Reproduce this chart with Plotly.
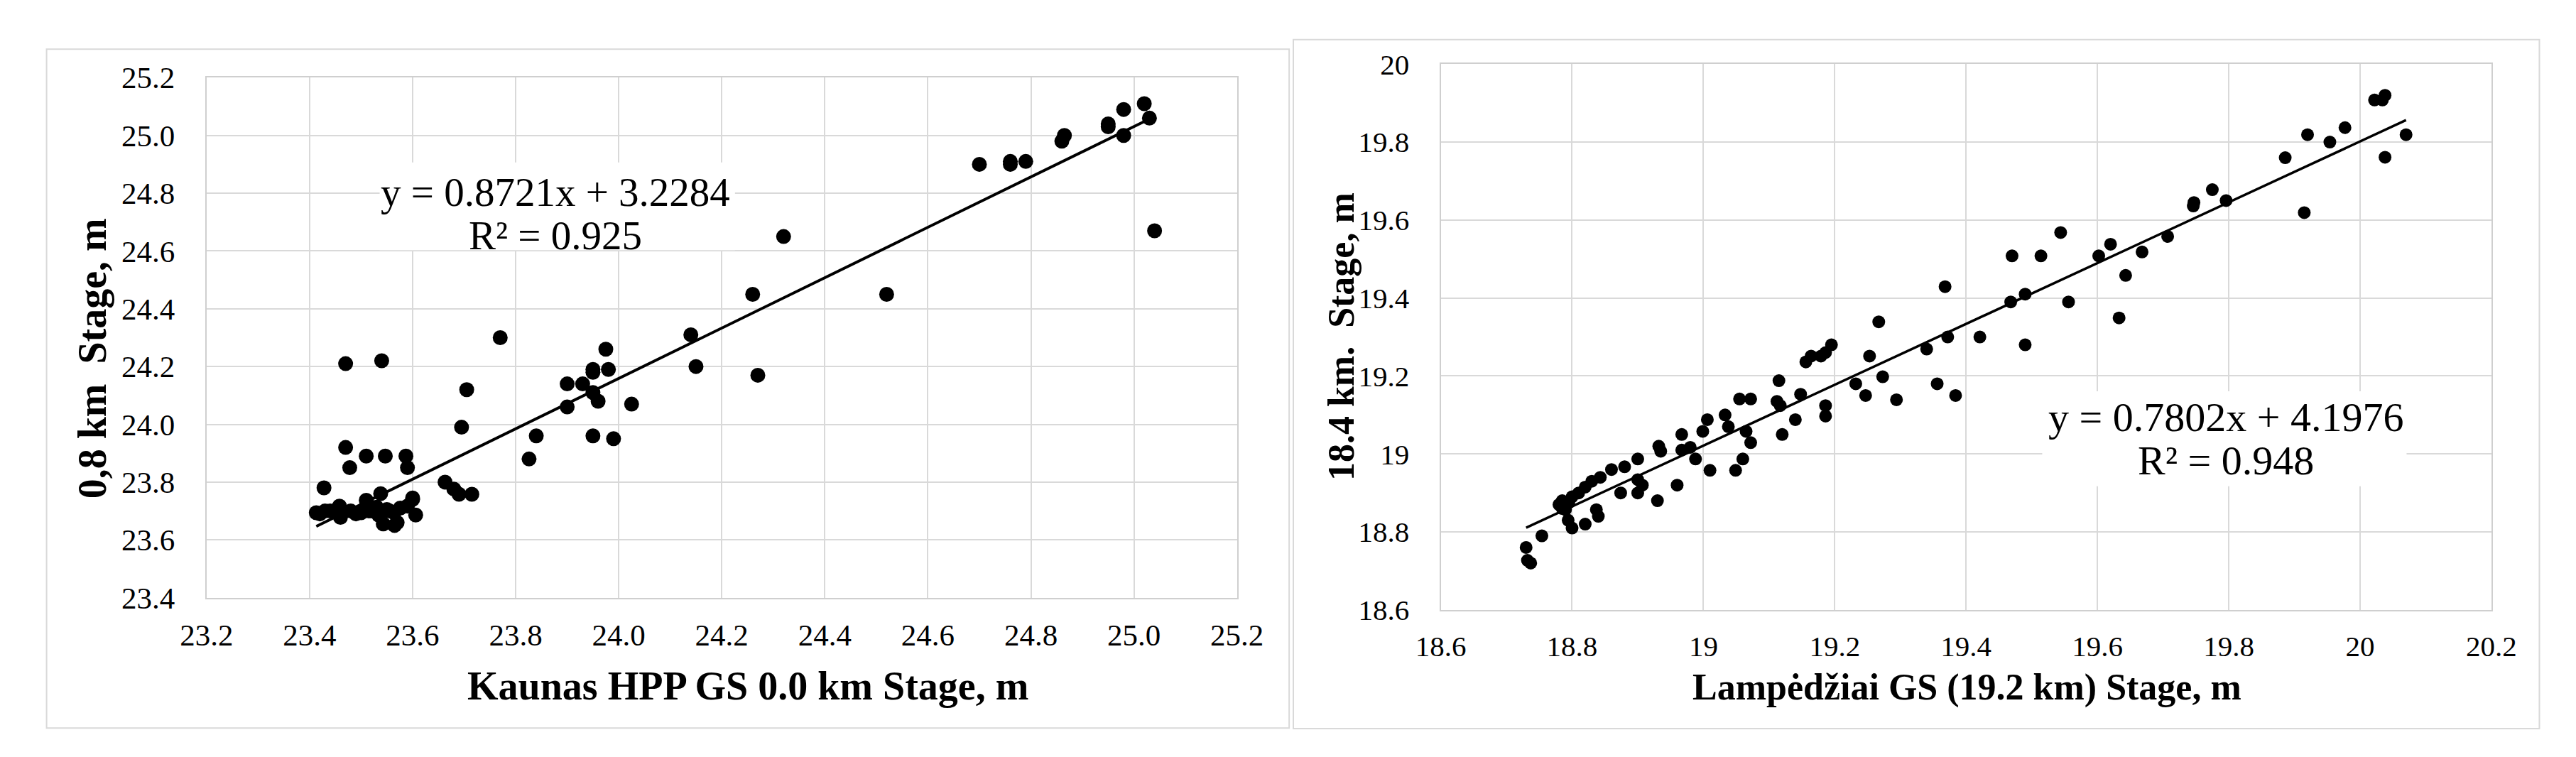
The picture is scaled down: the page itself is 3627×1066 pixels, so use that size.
import plotly.graph_objects as go

# ---------------- Left chart data (Kaunas HPP GS 0.0 km vs 0.8 km) ----------------
left_x = [25.02, 24.98, 25.03, 24.95, 24.95, 24.98, 24.865, 24.86, 24.70, 24.76, 24.76, 24.79,
          25.04, 24.32, 24.52, 24.26, 24.14, 24.15, 24.27, 23.77, 23.975, 23.95, 23.98, 23.95,
          23.90, 23.93, 23.95, 23.96, 23.90, 24.025, 23.95, 23.99, 23.84, 23.826, 23.705, 23.695,
          23.663, 23.68, 23.69, 23.715, 23.47, 23.54, 23.47, 23.478, 23.51, 23.547, 23.587, 23.59,
          23.428, 23.538, 23.60, 23.606,
          23.413, 23.43, 23.458, 23.46, 23.48, 23.50, 23.51, 23.515, 23.53, 23.534, 23.543, 23.55,
          23.564, 23.565, 23.576, 23.59, 23.60, 23.42, 23.44, 23.49, 23.555, 23.52, 23.57]
left_y = [25.11, 25.09, 25.06, 25.04, 25.03, 25.00, 25.00, 24.98, 24.90, 24.90, 24.91, 24.91,
          24.67, 24.65, 24.45, 24.45, 24.31, 24.20, 24.17, 24.30, 24.26, 24.19, 24.19, 24.18,
          24.14, 24.14, 24.11, 24.08, 24.06, 24.07, 23.96, 23.95, 23.96, 23.88, 24.12, 23.99,
          23.80, 23.776, 23.758, 23.758, 24.21, 24.22, 23.92, 23.85, 23.89, 23.89, 23.89, 23.85,
          23.78, 23.76, 23.745, 23.686,
          23.694, 23.70, 23.717, 23.678, 23.70, 23.694, 23.737, 23.70, 23.713, 23.686, 23.655, 23.705,
          23.694, 23.65, 23.71, 23.717, 23.74, 23.69, 23.70, 23.69, 23.70, 23.70, 23.66]
left_slope, left_intercept = 0.8721, 3.2284
left_eq = "y = 0.8721x + 3.2284"
left_r2 = "R² = 0.925"
left_ticks = [23.2, 23.4, 23.6, 23.8, 24.0, 24.2, 24.4, 24.6, 24.8, 25.0, 25.2]
left_ticktext = ["23.2", "23.4", "23.6", "23.8", "24.0", "24.2", "24.4", "24.6", "24.8", "25.0", "25.2"]
left_yticks = [23.4, 23.6, 23.8, 24.0, 24.2, 24.4, 24.6, 24.8, 25.0, 25.2]
left_yticktext = ["23.4", "23.6", "23.8", "24.0", "24.2", "24.4", "24.6", "24.8", "25.0", "25.2"]

# ---------------- Right chart data (Lampėdžiai GS 19.2 km vs 18.4 km) ----------------
right_x = [18.73, 18.732, 18.737, 18.754, 18.78, 18.785, 18.79, 18.794, 18.80, 18.82, 18.80, 18.81,
           18.82, 18.83, 18.843, 18.837, 18.84, 18.86, 18.88, 18.874, 18.90, 18.90, 18.90, 18.907,
           18.93, 18.932, 18.935, 18.96, 18.967, 18.967, 18.98, 18.988, 18.999, 19.006, 19.01, 19.033,
           19.038, 19.049, 19.06, 19.055, 19.072, 19.065, 19.072, 19.115, 19.112, 19.117, 19.12, 19.14,
           19.148, 19.156, 19.164, 19.179, 19.186, 19.195, 19.186, 19.186, 19.232, 19.247, 19.253, 19.267,
           19.273, 19.294, 19.34, 19.356, 19.372, 19.368, 19.384, 19.421, 19.468, 19.47, 19.49, 19.49,
           19.514, 19.544, 19.556, 19.602, 19.62, 19.633, 19.643, 19.668, 19.707, 19.746, 19.747, 19.775,
           19.796, 19.886, 19.915, 19.92, 19.954, 19.977, 20.022, 20.034, 20.038, 20.038, 20.07,
           18.785, 18.795]
right_y = [18.76, 18.727, 18.72, 18.79, 18.87, 18.88, 18.857, 18.83, 18.81, 18.82, 18.89, 18.90,
           18.915, 18.93, 18.94, 18.857, 18.84, 18.96, 18.967, 18.90, 18.987, 18.934, 18.90, 18.92,
           18.88, 19.02, 19.007, 18.92, 19.05, 19.01, 19.017, 18.987, 19.058, 19.088, 18.958, 19.10,
           19.07, 18.958, 18.987, 19.141, 19.141, 19.058, 19.029, 19.188, 19.135, 19.124, 19.05, 19.088,
           19.153, 19.236, 19.251, 19.251, 19.26, 19.28, 19.124, 19.097, 19.18, 19.15, 19.251, 19.339,
           19.198, 19.139, 19.269, 19.18, 19.30, 19.429, 19.15, 19.30, 19.39, 19.508, 19.41, 19.28,
           19.508, 19.568, 19.39, 19.508, 19.538, 19.349, 19.458, 19.518, 19.558, 19.636, 19.645, 19.678,
           19.65, 19.76, 19.619, 19.819, 19.80, 19.837, 19.908, 19.908, 19.92, 19.761, 19.819,
           18.86, 18.875]
right_slope, right_intercept = 0.7802, 4.1976
right_eq = "y = 0.7802x + 4.1976"
right_r2 = "R² = 0.948"
right_ticks = [18.6, 18.8, 19.0, 19.2, 19.4, 19.6, 19.8, 20.0, 20.2]
right_ticktext = ["18.6", "18.8", "19", "19.2", "19.4", "19.6", "19.8", "20", "20.2"]
right_yticks = [18.6, 18.8, 19.0, 19.2, 19.4, 19.6, 19.8, 20.0]
right_yticktext = ["18.6", "18.8", "19", "19.2", "19.4", "19.6", "19.8", "20"]

left_xtitle = "Kaunas HPP GS 0.0 km Stage, m"
left_ytitle = "0,8 km  Stage, m"
right_xtitle = "Lampėdžiai GS (19.2 km) Stage, m"
right_ytitle = "18.4 km.  Stage, m"

# ---------------- Layout geometry ----------------
W, H = 3627, 1066
FONT = "Liberation Serif"
GRID = "#d9d9d9"


def px(x):
    return x / W


def py(y):
    return 1 - y / H


fig = go.Figure()

# scatter points
fig.add_trace(go.Scatter(x=left_x, y=left_y, mode="markers", xaxis="x", yaxis="y",
                         marker=dict(color="black", size=21, line=dict(width=0)), showlegend=False))
fig.add_trace(go.Scatter(x=right_x, y=right_y, mode="markers", xaxis="x2", yaxis="y2",
                         marker=dict(color="black", size=18, line=dict(width=0)), showlegend=False))

# trend lines
lx = [min(left_x), max(left_x)]
fig.add_trace(go.Scatter(x=lx, y=[left_slope * v + left_intercept for v in lx], mode="lines",
                         xaxis="x", yaxis="y", line=dict(color="black", width=4), showlegend=False))
rx = [min(right_x), max(right_x)]
fig.add_trace(go.Scatter(x=rx, y=[right_slope * v + right_intercept for v in rx], mode="lines",
                         xaxis="x2", yaxis="y2", line=dict(color="black", width=3.5), showlegend=False))

axis_common = dict(showgrid=True, gridcolor=GRID, gridwidth=2, zeroline=False,
                   showline=True, linecolor="#cfcfcf", linewidth=2, mirror=True,
                   ticks="", fixedrange=True)

fig.update_layout(
    width=W, height=H,
    margin=dict(l=0, r=0, t=0, b=0),
    paper_bgcolor="white", plot_bgcolor="white",
    font=dict(family=FONT, color="black", size=42),
    xaxis=dict(domain=[px(250), px(1732)], range=[23.2, 25.2], anchor="y",
               tickvals=left_ticks, ticktext=left_ticktext,
               tickfont=dict(size=43, family=FONT, color="black"), ticklabelstandoff=14, **axis_common),
    yaxis=dict(domain=[py(848), py(82)], range=[23.4, 25.2], anchor="x",
               tickvals=left_yticks, ticktext=left_yticktext,
               tickfont=dict(size=43, family=FONT, color="black"), ticklabelstandoff=34, **axis_common),
    xaxis2=dict(domain=[px(2025), px(3536)], range=[18.6, 20.2], anchor="y2",
                tickvals=right_ticks, ticktext=right_ticktext,
                tickfont=dict(size=41, family=FONT, color="black"), ticklabelstandoff=14, **axis_common),
    yaxis2=dict(domain=[py(866), py(62)], range=[18.6, 20.0], anchor="x2",
                tickvals=right_yticks, ticktext=right_yticktext,
                tickfont=dict(size=41, family=FONT, color="black"), ticklabelstandoff=34, **axis_common),
)

shapes = [
    # outer chart borders
    dict(type="rect", xref="paper", yref="paper", x0=px(20), x1=px(1807), y0=py(1040), y1=py(40),
         line=dict(color="#d9d9d9", width=2), fillcolor="rgba(0,0,0,0)", layer="below"),
    dict(type="rect", xref="paper", yref="paper", x0=px(1813), x1=px(3605), y0=py(1041), y1=py(26),
         line=dict(color="#d9d9d9", width=2), fillcolor="rgba(0,0,0,0)", layer="below"),
    # white boxes behind the equation labels
    dict(type="rect", xref="paper", yref="paper", x0=px(499), x1=px(1010), y0=py(336), y1=py(207),
         line=dict(width=0), fillcolor="white", layer="above"),
    dict(type="rect", xref="paper", yref="paper", x0=px(2890), x1=px(3414), y0=py(684), y1=py(544),
         line=dict(width=0), fillcolor="white", layer="above"),
]
fig.update_layout(shapes=shapes)

ann = []


def add_text(text, x, y, size, bold=False, angle=0):
    t = f"<b>{text}</b>" if bold else text
    ann.append(dict(text=t, x=px(x), y=py(y), xref="paper", yref="paper",
                    xanchor="center", yanchor="middle", showarrow=False, textangle=angle,
                    font=dict(family=FONT, size=size, color="black")))


add_text(left_eq, 752, 251, 57)
add_text(left_r2, 752, 314, 57)
add_text(right_eq, 3154, 582, 58)
add_text(right_r2, 3154, 646, 58)
add_text(left_xtitle, 1029, 978, 56, bold=True)
add_text(right_xtitle, 2782, 980, 52, bold=True)
add_text(left_ytitle, 86, 496, 56, bold=True, angle=-90)
add_text(right_ytitle, 1882, 464, 52, bold=True, angle=-90)
fig.update_layout(annotations=ann)

fig.write_html("out.html")
